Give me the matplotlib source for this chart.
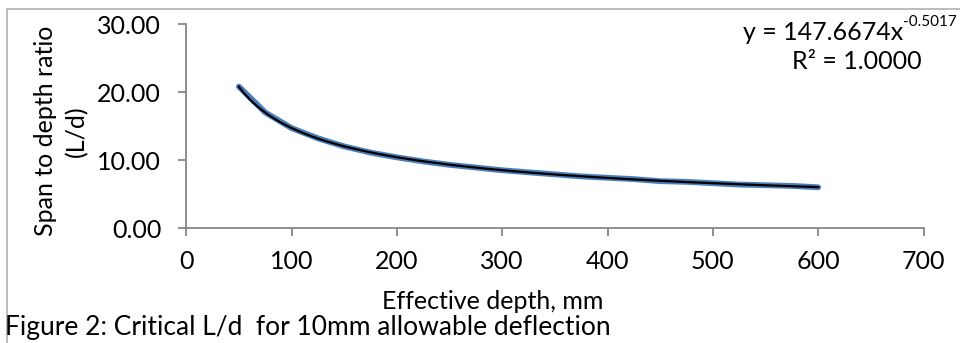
import numpy as np
import matplotlib.pyplot as plt

plt.rcParams["font.family"] = ["Lato", "DejaVu Sans"]

# effective depth (mm) and critical span/depth ratio
depth = [50, 75, 100, 125, 150, 175, 200, 225, 250, 275, 300, 325, 350,
         375, 400, 425, 450, 475, 500, 525, 550, 575, 600]
ratio = [20.8, 17.0, 14.7, 13.2, 12.0, 11.1, 10.4, 9.8, 9.3, 8.9, 8.5, 8.2,
         7.9, 7.6, 7.4, 7.2, 6.9, 6.8, 6.6, 6.4, 6.3, 6.2, 6.0]

x_ticks = [0, 100, 200, 300, 400, 500, 600, 700]
y_ticks = [0, 10, 20, 30]

axis_grey = "#868686"
fs = 18

fig = plt.figure(figsize=(9.6, 3.43), dpi=100)
ax = fig.add_axes([0.194, 0.335, 0.768, 0.595])

ax.plot(depth, ratio, color="#4a7ebb", lw=4.2, solid_capstyle="round")

# power trendline fitted in log space
b, log_a = np.polyfit(np.log(depth), np.log(ratio), 1)
xs = np.linspace(depth[0], depth[-1], 200)
ax.plot(xs, np.exp(log_a) * xs ** b, color="black", lw=1.6)

ax.set_xlim(0, 700)
ax.set_ylim(0, 30)
ax.set_xticks(x_ticks)
ax.set_yticks(y_ticks)
ax.set_yticklabels([f"{v:.2f}" for v in y_ticks])

for side in ["top", "right"]:
    ax.spines[side].set_visible(False)
for side in ["left", "bottom"]:
    ax.spines[side].set_color(axis_grey)
    ax.spines[side].set_linewidth(1.3)
ax.tick_params(axis="both", colors=axis_grey, labelcolor="black",
               labelsize=fs, length=6, width=1.3, direction="out")
ax.tick_params(axis="x", pad=10)
ax.tick_params(axis="y", pad=12)

fig.text(0.047, 0.618, "Span to depth ratio", rotation=90, fontsize=fs,
         ha="center", va="center")
fig.text(0.080, 0.618, "(L/d)", rotation=90, fontsize=fs,
         ha="center", va="center")
fig.text(0.513, 0.12, "Effective depth, mm", fontsize=fs,
         ha="center", va="center")
fig.text(0.005, 0.044, "Figure 2: Critical L/d  for 10mm allowable deflection",
         fontsize=19, ha="left", va="center")

# trendline equation, exponent drawn as its own smaller text
fig.text(0.941, 0.905, "y = 147.6674x", fontsize=fs, ha="right", va="center")
fig.text(0.941, 0.935, "-0.5017", fontsize=11, ha="left", va="center")
fig.text(0.892, 0.82, "R² = 1.0000", fontsize=fs, ha="center", va="center")

# chart area border (top and left visible)
fig.add_artist(plt.Line2D([0.007, 1.0], [0.974, 0.974], color="#b0b0b0",
                          lw=1.2, transform=fig.transFigure))
fig.add_artist(plt.Line2D([0.007, 0.007], [0.974, 0.0], color="#b0b0b0",
                          lw=1.2, transform=fig.transFigure))

fig.savefig("out.png", dpi=100)
